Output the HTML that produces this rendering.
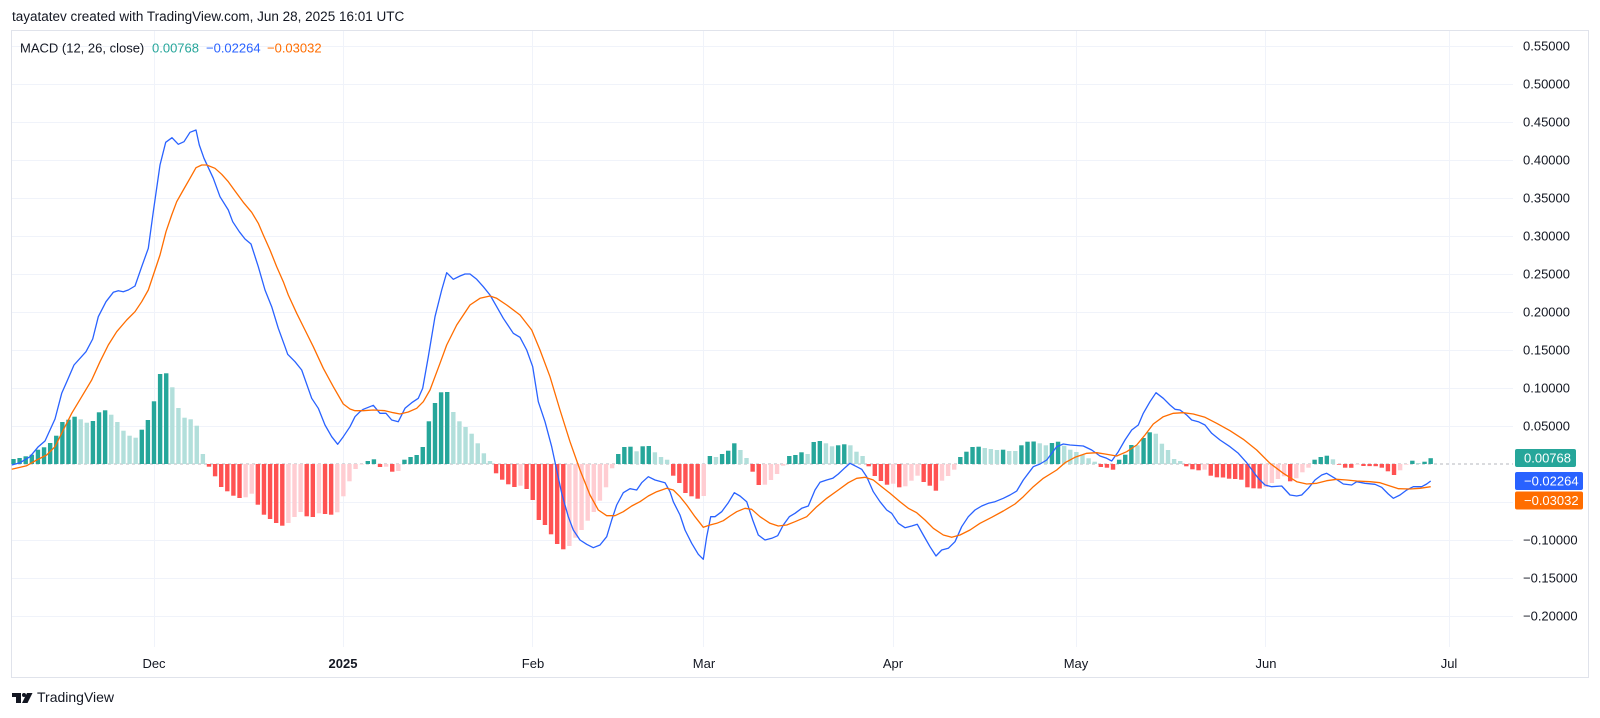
<!DOCTYPE html>
<html><head><meta charset="utf-8">
<style>
html,body{margin:0;padding:0;background:#fff;}
svg{display:block;}
text{font-family:"Liberation Sans",Arial,sans-serif;}
</style></head><body>
<svg width="1600" height="718" viewBox="0 0 1600 718" xmlns="http://www.w3.org/2000/svg">
<rect width="1600" height="718" fill="#fff"/>
<text x="12" y="21" font-size="13.5" fill="#131722">tayatatev created with TradingView.com, Jun 28, 2025 16:01 UTC</text>
<rect x="11.5" y="30.5" width="1577" height="647" fill="none" stroke="#e0e3eb"/>
<g stroke="#f0f3fa" stroke-width="1">
<line x1="12" x2="1513" y1="46.5" y2="46.5"/><line x1="12" x2="1513" y1="84.5" y2="84.5"/><line x1="12" x2="1513" y1="122.5" y2="122.5"/><line x1="12" x2="1513" y1="160.5" y2="160.5"/><line x1="12" x2="1513" y1="198.5" y2="198.5"/><line x1="12" x2="1513" y1="236.5" y2="236.5"/><line x1="12" x2="1513" y1="274.5" y2="274.5"/><line x1="12" x2="1513" y1="312.5" y2="312.5"/><line x1="12" x2="1513" y1="350.5" y2="350.5"/><line x1="12" x2="1513" y1="388.5" y2="388.5"/><line x1="12" x2="1513" y1="426.5" y2="426.5"/><line x1="12" x2="1513" y1="502.5" y2="502.5"/><line x1="12" x2="1513" y1="540.5" y2="540.5"/><line x1="12" x2="1513" y1="578.5" y2="578.5"/><line x1="12" x2="1513" y1="616.5" y2="616.5"/>
<line y1="31" y2="647" x1="154.5" x2="154.5"/><line y1="31" y2="647" x1="343.5" x2="343.5"/><line y1="31" y2="647" x1="532.5" x2="532.5"/><line y1="31" y2="647" x1="703.5" x2="703.5"/><line y1="31" y2="647" x1="893.5" x2="893.5"/><line y1="31" y2="647" x1="1076.5" x2="1076.5"/><line y1="31" y2="647" x1="1265.5" x2="1265.5"/><line y1="31" y2="647" x1="1449.5" x2="1449.5"/>
</g>
<line x1="12" x2="1513" y1="464" y2="464" stroke="rgba(120,123,134,0.55)" stroke-width="1" stroke-dasharray="3 3"/>
<g id="bars"></g>
<polyline fill="none" stroke="#2962ff" stroke-width="1.3" stroke-linejoin="round" points="11.7,465 20,462.7 30,456.7 38.3,446.7 45,441 55,419 61.7,393.3 68.3,378.3 74,365 86,351.7 92.7,339 98.3,316.7 106,301.7 113.3,292.3 118.3,290.7 123.3,291.7 128.3,290 135,286 141.7,266.7 148.3,248.3 153.3,211.7 160,165 165.7,142.3 172,137.7 178.3,144.3 184,141.7 190,132.3 196,130 199.3,145 204,158.3 213.3,178.3 220,196.7 228.3,210 232.7,221.7 239.3,231.7 245,239 251,244 258.3,266.7 265,290 271.7,306.7 278.3,328.3 285,346.7 287.7,354.3 295,361.7 301.7,370 311.7,398.3 318.3,408.3 325,425 331.7,436.7 337.7,444.3 343.3,436.7 350,426.7 355,416.7 360,411.7 363.3,409.3 373.3,405.3 380,413.3 386,413.3 391.7,420 398.3,421.7 405,408.3 411.7,402.7 418.3,398.3 422.7,388.3 428.3,356.7 435,316.7 441.7,290 446.7,272.7 453.3,279.3 460,276 465,274 470,274 476.7,279.3 483.3,286.7 490,295 496.7,306.7 503.3,318.3 513.3,333.3 520,337.3 526.7,350 532.7,366.7 538.3,401.7 545,421.7 551.7,446.7 556.7,470 561.7,493.3 568.3,516.7 573.3,530 580,540 586.7,544.3 593.3,547.7 600,545 606.7,536.7 611.7,520 616.7,505 623.3,492.7 630,488.7 636.7,490 641.7,482.7 648.3,476.7 655,480 665,482.7 670,491.7 673.3,501.7 680,515 685,530 691.7,543.3 698.3,554.3 703.3,559.3 706.7,536.7 710.7,516.7 715,516.7 721.7,511.7 728.3,502.7 734.3,492.7 740,496 746.7,501.7 752.7,520 758.3,535 765,540 771.7,538.3 777.7,535.7 783.3,525 789.3,516.7 795,513.3 801.7,508.3 808.3,506 815,490 820,482.3 826.7,480 832.7,478.3 838.3,474 845,467.7 850,463.3 856.7,466.7 861.7,469.3 866.7,476.7 873.3,491.7 880,501.7 886.7,510 891.7,513.3 898.3,523.3 905,527.7 911.7,526 917.3,524.3 923.3,535 930,546.7 936,556 941.7,550 948.3,548.3 955,541.7 961.7,526.7 968.3,516.7 975,510 981.7,506 988.3,503.3 995,501.7 1003.3,498.3 1010,495 1016.7,491 1023.3,480 1033.3,466.7 1040,464 1046.7,460 1056.7,446.7 1063.3,444 1070,445 1083.3,446 1091.7,450 1100,456 1106.7,458.3 1111.7,461 1118.3,451.7 1125,440 1131.7,430 1138.3,425 1143.3,413.3 1150,401.7 1156,392.7 1163.3,398.3 1170,405 1175,409.3 1180,410 1186.7,415 1191.7,420 1198.3,421.7 1205,425 1211.7,433.3 1220,440 1230,446.7 1238.3,453.3 1246.7,462.7 1253.3,471.7 1258.3,478.3 1265,485 1271.7,486.7 1281.7,486 1290,495 1296.7,496 1301.7,495 1308.3,488.3 1315,480 1321.7,475 1326.7,473.3 1335,478.3 1343.3,484 1351.7,485 1356.7,481.7 1365,483.3 1375,484.3 1381.7,487.3 1388.3,494 1393.3,498.3 1400,495 1406.7,490 1413.3,486.7 1421.7,486.7 1426.7,484 1430.7,481"/>
<polyline fill="none" stroke="#ff6d00" stroke-width="1.3" stroke-linejoin="round" points="11.7,469.3 26.7,465.7 36.7,460 46.7,455 55,446.7 63.3,430 71.7,413.3 81.7,396.7 91.7,380 100,361.7 108.3,345 116.7,331.7 126.7,320 135,311.7 141.7,301.7 148.3,290 155,270 160,255 166,231.7 171.7,215 176.7,201.7 183.3,190 190,178.3 196,167.7 201.7,165 206.7,165 215,168.3 221.7,174.3 228.3,181.7 235,191 243.3,202.3 251.7,212.3 258.3,223.3 263.3,235 270,250 276.7,266.7 283.3,281.7 288.3,295 296.7,313.3 305,330 313.3,346.7 323.3,368.3 333.3,386.7 343.3,404 350,409 355,410.7 363.3,410.7 373.3,410 385,410.7 393.3,412.7 400,414 408.3,412 416.7,408.3 423.3,401.7 430,390 440,363.3 446.7,345 456.7,325 470,305 480,298.3 490,296 496.7,298.3 506.7,305 520,315 531.7,330 540,350 550,376.7 560,410 570,441.7 580,470 590,495 598.3,510 606.7,515.7 615,515.7 623.3,511.7 631.7,506 640,501.7 648.3,496 656.7,491.7 666.7,488.3 673.3,490 680,496.7 686.7,505 695,516.7 703.3,527.3 710,525 716.7,523.3 723.3,520.7 730,516 736.7,511.7 745,508.3 751.7,509.3 760,516.7 770,523.3 778.3,526 786.7,525 795,521.7 806.7,516.7 816.7,506.7 826.7,498.3 838.3,490 848.3,482.7 856.7,478.3 865,477.3 873.3,480 881.7,486.7 890,493.3 900,501.7 908.3,508.3 916.7,512.7 925,520 933.3,528.3 943.3,535 951.7,537.3 960,535 970,530 980,523.3 991.7,517.3 1003.3,511 1015,504 1023.3,496.7 1033.3,486.7 1043.3,478.3 1056.7,470 1065,462.7 1075,457.3 1086.7,453.3 1096.7,452.7 1105,454 1116.7,456 1126.7,451.7 1136.7,445 1145,435 1153.3,424 1163.3,416.7 1173.3,413.3 1183.3,412.7 1193.3,414 1205,417.3 1216.7,423.3 1230,430.7 1243.3,439.3 1256.7,450 1270,463.3 1283.3,473.3 1296.7,481.7 1306.7,484 1316.7,483.3 1326.7,480.7 1336.7,479.3 1346.7,480 1356.7,481 1370,481.7 1380,482.7 1390,486 1398.3,488.7 1410,489 1420,488.3 1430.7,486.7"/>
<g font-size="13" fill="#131722">
<text x="20" y="52.5">MACD (12, 26, close)</text>
<text x="152" y="52.5" fill="#26a69a">0.00768</text>
<text x="206" y="52.5" fill="#2962ff">−0.02264</text>
<text x="267" y="52.5" fill="#ff6d00">−0.03032</text>
</g>
<g font-size="13" fill="#131722">
<text x="1523" y="50.7">0.55000</text>
<text x="1523" y="88.7">0.50000</text>
<text x="1523" y="126.7">0.45000</text>
<text x="1523" y="164.7">0.40000</text>
<text x="1523" y="202.7">0.35000</text>
<text x="1523" y="240.7">0.30000</text>
<text x="1523" y="278.7">0.25000</text>
<text x="1523" y="316.7">0.20000</text>
<text x="1523" y="354.7">0.15000</text>
<text x="1523" y="392.7">0.10000</text>
<text x="1523" y="430.7">0.05000</text>
<text x="1523" y="544.7">−0.10000</text>
<text x="1523" y="582.7">−0.15000</text>
<text x="1523" y="620.7">−0.20000</text>
</g>
<rect x="1515" y="449" width="61" height="18" rx="2" fill="#26a69a"/>
<text x="1524" y="462.5" font-size="13" fill="#fff">0.00768</text>
<rect x="1515" y="472" width="68" height="18" rx="2" fill="#2962ff"/>
<text x="1524" y="485.5" font-size="13" fill="#fff">−0.02264</text>
<rect x="1515" y="491.5" width="68" height="18" rx="2" fill="#ff6d00"/>
<text x="1524" y="505" font-size="13" fill="#fff">−0.03032</text>
<g font-size="13" fill="#131722" text-anchor="middle">
<text x="154" y="668">Dec</text>
<text x="343" y="668" font-weight="bold">2025</text>
<text x="533" y="668">Feb</text>
<text x="704" y="668">Mar</text>
<text x="893" y="668">Apr</text>
<text x="1076" y="668">May</text>
<text x="1266" y="668">Jun</text>
<text x="1449" y="668">Jul</text>
</g>
<g fill="#131722">
<rect x="12" y="693" width="9" height="4"/>
<rect x="16" y="693" width="5" height="10"/>
<circle cx="24" cy="695" r="2"/>
<polygon points="27,693 32.5,693 27.5,703 22,703"/>
</g>
<text x="37" y="702" font-size="14" fill="#131722">TradingView</text>
</svg>
<script>
(function(){
var segs=[
[-23,[5,6,7.7,9.3,14.3,16.7,21,28.3,42,44.3,47.3,44.7,41.3,43,51.7,53.7,49.3,42,33.3,28.3,26.3,34.3,44,62.7,90,90.7,76.7,56,46.3,44.7,38.3,10]],
[9,[-2.7,-12.3,-23,-27.3,-31.7,-34,-33.3,-29.7,-40.7,-50.7,-55,-59,-61.7,-59,-53,-48,-52.3,-53,-49.3,-50,-50.7,-48.3,-32.3,-17.3,-5]],
[34,[-0.5,3,4.7,-3,-2.7,-7.7,-7,4.3,7,9,17,42.7,61,71.7,72,52,42.7,37,30.3,20.7,10.7,3,-9.3,-15.7,-20.3,-23,-21.7,-25,-36,-56,-61,-70.3,-80,-85.3,-82,-73.7,-66,-56.7,-48,-36.7,-23.3,-4.3,10,17,17.3,12.7,17.7,18,11.7,7,4.3,-11.7,-19,-29,-32.3,-34.7]],
[90,[-32,8,7,10,13.3,20.7,14,6,-7.7,-21,-20.7,-16,-10,-1.7,8,9,11.7,10,22,23,20.7,17.7,18.7,19.7,18.7,12.3,8,-2.3,-12,-17,-20.7,-19.7,-23.3,-22.3,-16.7,-11.7,-18,-21.7,-26.7,-16.7,-12,-5.7,7,12.3,17,17.3,16,15,14,14.3,13,13,18.7,22.3,22.5,20.7,18.7,21,22.3,18.3,14.3]],
[151,[12,9.3,5.7,2.3,-3,-3.7,-5.7,4.3,9.3,19,18.7,26,31.7,30.3,20.3,14,5,3,-2.3,-5.3,-6.3,-5.7,-11.7,-13.3,-13.5,-14.7,-15,-15.7,-23.3,-24.3,-24.5,-23,-19,-15,-12.3,-17.3,-14.3,-8.3,-3.7,4.3,7,8.3,4.7,-0.7,-3.7,-3.8,-0.7,-2,-2.1,-2.2,-3.7,-7.3,-11,-6.3,-0.7,3.3,1,2.3,5.8]]
];
var g=document.getElementById('bars');var ns='http://www.w3.org/2000/svg';var prev=null;
segs.forEach(function(s){s[1].forEach(function(h,i){
var d=s[0]+i;var cx=154+6.1085*d;var col;
if(h>=0){col=(prev!==null&&prev>=h)?'#b2dfdb':'#26a69a';}else{col=(prev!==null&&prev<h)?'#ffcdd2':'#ff5252';}
prev=h;
var r=document.createElementNS(ns,'rect');
r.setAttribute('x',(cx-2.2).toFixed(2));
r.setAttribute('y',(h>=0?464-h:464).toFixed(2));
r.setAttribute('width','4.4');
r.setAttribute('height',Math.abs(h).toFixed(2));
r.setAttribute('fill',col);
g.appendChild(r);
});});
})();
</script>
</body></html>
